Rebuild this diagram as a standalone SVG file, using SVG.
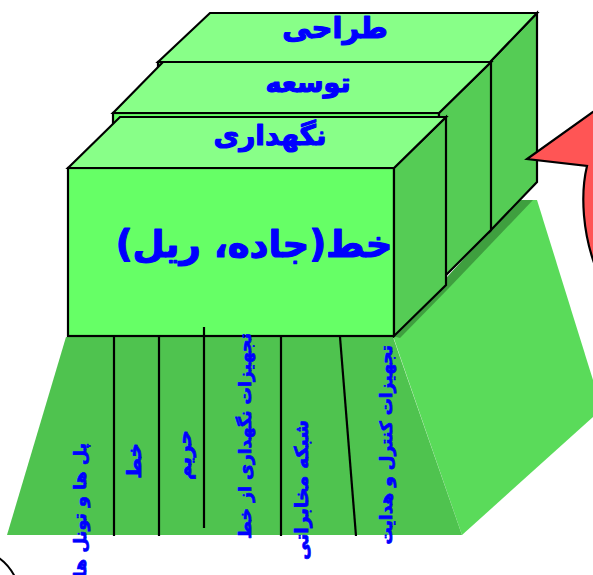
<svg xmlns="http://www.w3.org/2000/svg" width="593" height="575" viewBox="0 0 593 575">
<style>
.edge{stroke:#000;stroke-width:2.2;stroke-linejoin:miter}
.top{fill:#88ff88}
.front{fill:#66ff66}
.side{fill:#55cc55}
.lbl{font-family:"DejaVu Sans","Noto Sans",sans-serif;font-weight:bold;fill:#0000ff;stroke:#0000ff;stroke-width:1.2;stroke-linejoin:round}
.vl{font-family:"DejaVu Sans","Noto Sans",sans-serif;font-weight:bold;fill:#0000ff;stroke:#0000ff;stroke-width:0.7;stroke-linejoin:round;text-anchor:end}
.div{stroke:#000;stroke-width:2.2;fill:none}
</style>
<rect width="593" height="575" fill="#ffffff"/>
<g id="outline-arc"><path d="M -4,556 Q 8,563 15,577" fill="none" stroke="#000" stroke-width="2"/></g>
<g id="floor">
<polygon points="393,336 518,200 537,200 602,409 462,535" fill="#5adb5a"/>
<polygon points="393,336 518,200 533,200 448,289 400,338" fill="#3f9f3f"/>
<polygon points="66,337 393,337 462,535 7,535" fill="#4fc34f"/>
</g>
<g id="box-design">
<rect class="front edge" x="158" y="62" width="332" height="169"/>
<polygon class="side edge" points="490,62 537,13 537,182 490,231"/>
<polygon class="top edge" points="158,62 210,13 537,13 490,62"/>
<text class="lbl" x="335" y="38" font-size="29" text-anchor="middle">طراحی</text>
</g>
<g id="box-development">
<rect class="front edge" x="113" y="113" width="326" height="169"/>
<polygon class="side edge" points="439,113 491,62 491,230 439,282"/>
<polygon class="top edge" points="113,113 163,62 491,62 439,113"/>
<text class="lbl" x="308" y="92" font-size="27" text-anchor="middle">توسعه</text>
</g>
<g id="box-maintenance">
<rect class="front edge" x="68" y="168" width="326" height="168"/>
<polygon class="side edge" points="394,168 446,117 446,285 394,336"/>
<polygon class="top edge" points="68,168 120,117 446,117 394,168"/>
<text class="lbl" x="270" y="145" font-size="28" text-anchor="middle">نگهداری</text>
<text class="lbl" x="254" y="257" font-size="37" text-anchor="middle">خط(جاده، ریل)</text>
</g>
<g id="arrow">
<path d="M 600,107 L 593,112 L 527,159 L 587,166 C 580,195 583,235 596,268 L 600,268 Z" fill="#ff5555" stroke="#000" stroke-width="2.2" stroke-linejoin="miter"/>
</g>
<g id="connectors">
<line class="div" x1="114" y1="337" x2="114" y2="536"/>
<line class="div" x1="159" y1="337" x2="159" y2="536"/>
<line class="div" x1="204" y1="327" x2="204" y2="528"/>
<line class="div" x1="281" y1="337" x2="281" y2="536"/>
<line class="div" x1="340" y1="337" x2="356" y2="536"/>
</g>
<g id="labels">
<text class="vl" transform="translate(86,443) rotate(-90)" font-size="17.5">پل ها و تونل ها</text>
<text class="vl" transform="translate(141,443) rotate(-90)" font-size="20">خط</text>
<text class="vl" transform="translate(191,430) rotate(-90)" font-size="20">حریم</text>
<text class="vl" transform="translate(251,333) rotate(-90)" font-size="17.3">تجهیزات نگهداری از خط</text>
<text class="vl" transform="translate(308,420) rotate(-90)" font-size="19">شبکه مخابراتی</text>
<text class="vl" transform="translate(392,345) rotate(-90)" font-size="17">تجهیزات کنترل و هدایت</text>
</g>
</svg>
